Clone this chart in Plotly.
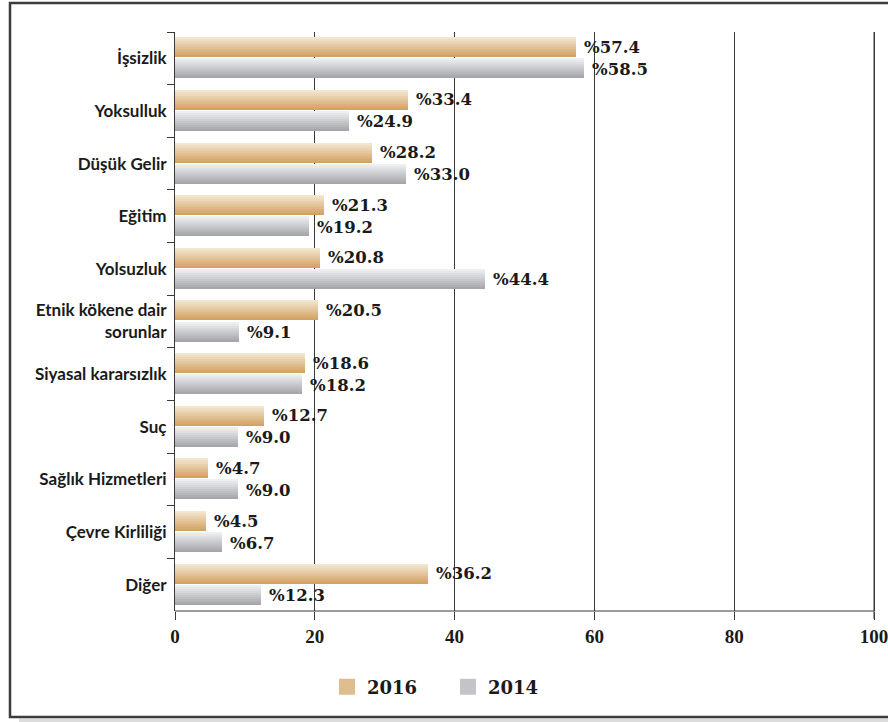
import plotly.graph_objects as go

categories = ["İşsizlik", "Yoksulluk", "Düşük Gelir", "Eğitim", "Yolsuzluk",
              "Etnik kökene dair<br>sorunlar", "Siyasal kararsızlık", "Suç",
              "Sağlık Hizmetleri", "Çevre Kirliliği", "Diğer"]
values_2016 = [57.4, 33.4, 28.2, 21.3, 20.8, 20.5, 18.6, 12.7, 4.7, 4.5, 36.2]
values_2014 = [58.5, 24.9, 33.0, 19.2, 44.4, 9.1, 18.2, 9.0, 9.0, 6.7, 12.3]
x_ticks = [0, 20, 40, 60, 80, 100]

def lerp(c1, c2, t):
    a = [int(c1[i:i + 2], 16) for i in (1, 3, 5)]
    b = [int(c2[i:i + 2], 16) for i in (1, 3, 5)]
    return "rgb(%d,%d,%d)" % tuple(round(a[k] + (b[k] - a[k]) * t) for k in range(3))

fig = go.Figure()
N = 10
BW = 0.38
series = [
    ("2016", values_2016, -0.40, "#f3e6cf", "#d3a264"),
    ("2014", values_2014, 0.0, "#eeeff1", "#a6a7ab"),
]
for name, vals, off0, ctop, cbot in series:
    w = BW / N
    for i in range(N):
        fig.add_trace(go.Bar(
            y=categories, x=vals, orientation="h",
            offset=off0 + i * w, width=w * 1.02,
            marker=dict(color=lerp(ctop, cbot, i / (N - 1)), line=dict(width=0)),
            name=name, legendgroup=name,
            showlegend=False, hoverinfo="skip",
        ))
    # legend entry
    fig.add_trace(go.Scatter(
        x=[None], y=[None], mode="markers", name=name, legendgroup=name,
        marker=dict(symbol="square", size=20, color=lerp(ctop, cbot, 0.6), line=dict(width=0)),
        showlegend=True,
    ))

annotations = []
for name, vals, shift in [("2016", values_2016, 11), ("2014", values_2014, -11)]:
    for c, v in zip(categories, vals):
        annotations.append(dict(
            x=v, y=c, xref="x", yref="y", text="%" + f"{v:.1f}",
            showarrow=False, xanchor="left", yanchor="middle",
            xshift=6, yshift=shift,
            font=dict(family="DejaVu Serif", size=16.5, color="#1a1a1a", weight="bold"),
        ))

W, H = 888, 722
L, R, T, B = 175, 7, 32, 111
pw, ph = W - L - R, H - T - B
def px(x): return (x - L) / pw
def py(y): return (H - B - y) / ph

shapes = [
    dict(type="rect", xref="paper", yref="paper", x0=px(19), x1=px(930), y0=py(723), y1=py(718.5),
         fillcolor="#dcdcdc", line=dict(width=0), layer="below"),
    dict(type="rect", xref="paper", yref="paper", x0=px(10), x1=px(930), y0=py(717), y1=py(3),
         fillcolor="rgba(0,0,0,0)", line=dict(color="#3c3c3c", width=2.5), layer="below"),
    # x axis baseline spanning the tick range
    dict(type="line", xref="x", yref="paper", x0=x_ticks[0], x1=x_ticks[-1], y0=0, y1=0,
         line=dict(color="#3a3a3a", width=1)),
    # last gridline with its tick (plotly drops the edge gridline)
    dict(type="line", xref="x", yref="paper", x0=x_ticks[-1], x1=x_ticks[-1], y0=-8 / ph, y1=1,
         line=dict(color="#3a3a3a", width=1)),
]

fig.update_layout(
    width=W, height=H,
    margin=dict(l=L, r=R, t=T, b=B, autoexpand=False),
    paper_bgcolor="white", plot_bgcolor="white",
    barmode="overlay", bargap=0,
    annotations=annotations, shapes=shapes,
    legend=dict(orientation="h", x=px(327), y=py(687), xanchor="left", yanchor="middle",
                font=dict(family="DejaVu Serif", size=18, color="#1a1a1a", weight="bold"),
                itemsizing="trace", traceorder="normal", entrywidth=76),
    xaxis=dict(range=[0, 101], tickvals=x_ticks, showgrid=True, gridcolor="#3a3a3a", gridwidth=1,
               showline=False, ticks="outside", ticklen=8,
               tickcolor="#3a3a3a", zeroline=False, ticklabeloverflow="allow", automargin=False,
               tickfont=dict(family="Liberation Serif", size=19, color="#1a1a1a", weight="bold")),
    yaxis=dict(autorange="reversed", type="category", showline=True, linecolor="#3a3a3a", linewidth=1,
               ticks="outside", tickson="boundaries", ticklen=7, tickcolor="#3a3a3a",
               showgrid=False, ticklabelstandoff=4, automargin=False,
               tickfont=dict(family="Lato", size=17, color="#1a1a1a", weight="bold")),
)

fig.write_html("out.html", config={"displayModeBar": False},
               post_script="document.body.style.margin='0';")
